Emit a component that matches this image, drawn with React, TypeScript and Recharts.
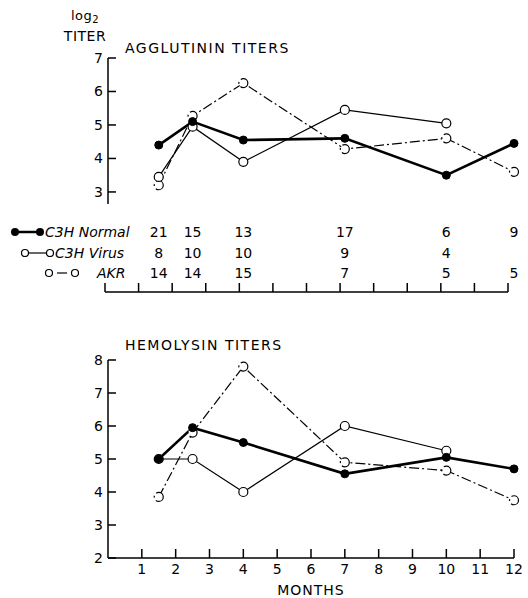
import { Legend, Line, LineChart, XAxis, YAxis } from "recharts";

const FONT = "DejaVu Sans";

// months at which titers were measured
const months = [1.5, 2.5, 4, 7, 10, 12];
const monthTicks = [1, 2, 3, 4, 5, 6, 7, 8, 9, 10, 11, 12];
const scaleTicks = [0, 1, 2, 3, 4, 5, 6, 7, 8, 9, 10, 11, 12];

// agglutinin titers (log2)
const agglNormal = [4.4, 5.1, 4.55, 4.6, 3.5, 4.45];
const agglVirus = [3.45, 4.95, 3.9, 5.45, 5.05, null];
const agglAkr = [3.2, 5.27, 6.25, 4.28, 4.6, 3.6];

// hemolysin titers (log2)
const hemoNormal = [5.0, 5.95, 5.5, 4.55, 5.05, 4.7];
const hemoVirus = [5.0, 5.0, 4.0, 6.0, 5.25, null];
const hemoAkr = [3.85, 5.8, 7.8, 4.9, 4.65, 3.75];

// number of animals per group
const countNormal = [21, 15, 13, 17, 6, 9];
const countVirus = [8, 10, 10, 9, 4, null];
const countAkr = [14, 14, 15, 7, 5, 5];

const agglData = months.map((m, i) => ({ month: m, normal: agglNormal[i], virus: agglVirus[i], akr: agglAkr[i] }));
const hemoData = months.map((m, i) => ({ month: m, normal: hemoNormal[i], virus: hemoVirus[i], akr: hemoAkr[i] }));

const txt = { fontFamily: FONT, fontSize: 14, fill: "#000" };

function YTick(props: any) {
  const { x, y, payload } = props;
  return (
    <g>
      <line x1={x} x2={x + 8} y1={y} y2={y} stroke="#000" strokeWidth={1.5} />
      <text x={x - 5} y={y} dy={5} textAnchor="end" {...txt}>{payload.value}</text>
    </g>
  );
}

function MonthTick(props: any) {
  const { x, y, payload } = props;
  return (
    <g>
      <line x1={x} x2={x} y1={y} y2={y - 9} stroke="#000" strokeWidth={1.5} />
      <text x={x} y={y + 16} textAnchor="middle" {...txt}>{payload.value}</text>
    </g>
  );
}

function ScaleTick(props: any) {
  const { x, y } = props;
  return <line x1={x} x2={x} y1={y} y2={y - 9} stroke="#000" strokeWidth={1.5} />;
}

function CountTick(props: any) {
  const { x, y, payload } = props;
  const i = months.indexOf(payload.value);
  if (i < 0) return <g />;
  return (
    <g>
      <text x={x} y={y + 33} textAnchor="middle" {...txt}>{countNormal[i]}</text>
      <text x={x} y={y + 54} textAnchor="middle" {...txt}>{countVirus[i] ?? ""}</text>
      <text x={x} y={y + 74} textAnchor="middle" {...txt}>{countAkr[i]}</text>
    </g>
  );
}

function TableKey() {
  const it = { ...txt, fontStyle: "italic" as const };
  return (
    <svg width={140} height={62}>
      <line x1={15} x2={40} y1={10} y2={10} stroke="#000" strokeWidth={2.5} />
      <circle cx={15} cy={10} r={4} fill="#000" />
      <circle cx={40} cy={10} r={4} fill="#000" />
      <text x={45} y={15} {...it}>C3H Normal</text>
      <line x1={25} x2={50} y1={31} y2={31} stroke="#000" strokeWidth={1.2} />
      <circle cx={25} cy={31} r={3.5} fill="#fff" stroke="#000" strokeWidth={1.2} />
      <circle cx={50} cy={31} r={3.5} fill="#fff" stroke="#000" strokeWidth={1.2} />
      <text x={55} y={36} {...it}>C3H Virus</text>
      <line x1={57} x2={67} y1={51} y2={51} stroke="#000" strokeWidth={1.2} />
      <circle cx={49} cy={51} r={3.5} fill="#fff" stroke="#000" strokeWidth={1.2} />
      <circle cx={75} cy={51} r={3.5} fill="#fff" stroke="#000" strokeWidth={1.2} />
      <text x={97} y={56} {...it}>AKR</text>
    </svg>
  );
}

const filledDot = { r: 4, fill: "#000", stroke: "#000", strokeWidth: 1 };
const openDot = { r: 4.5, fill: "#fff", stroke: "#000", strokeWidth: 1.2 };

const title = { position: "absolute" as const, fontFamily: FONT, fontSize: 14, letterSpacing: 1.5, lineHeight: "16px", color: "#000" };

export default function App() {
  return (
    <div style={{ position: "absolute", left: 0, top: 0, width: 528, height: 598, background: "#fff" }}>
      <div style={{ ...title, left: 58, top: 8, width: 54, textAlign: "center", letterSpacing: 0.5, fontSize: 13 }}>
        log<sub style={{ fontSize: 10, verticalAlign: "-3px" }}>2</sub>
        <br /><span style={{ fontSize: 14 }}>TITER</span>
      </div>
      <div style={{ ...title, left: 125, top: 40 }}>AGGLUTININ TITERS</div>
      <div style={{ ...title, left: 125, top: 337 }}>HEMOLYSIN TITERS</div>

      <div style={{ position: "absolute", left: 0, top: 0 }}>
        <LineChart width={528} height={300} data={agglData} margin={{ top: 58, right: 14, left: 0, bottom: 0 }}>
          <XAxis type="number" dataKey="month" domain={[0, 12]} ticks={months} interval={0}
            height={96} axisLine={false} tickLine={false} tickSize={0} tickMargin={0} tick={<CountTick />} />
          <YAxis type="number" domain={[2.64, 7]} allowDataOverflow ticks={[3, 4, 5, 6, 7]} width={108}
            axisLine={{ stroke: "#000", strokeWidth: 1.5 }} tickLine={false} tickSize={0} tickMargin={0} tick={<YTick />} />
          <Legend verticalAlign="middle" content={<TableKey />} wrapperStyle={{ position: "absolute", left: 0, top: 222, width: 140, height: 62 }} />
          <Line dataKey="akr" stroke="#000" strokeWidth={1.2} strokeDasharray="10 3 2 3" dot={openDot} isAnimationActive={false} />
          <Line dataKey="virus" stroke="#000" strokeWidth={1.2} dot={openDot} isAnimationActive={false} />
          <Line dataKey="normal" stroke="#000" strokeWidth={2.6} dot={filledDot} isAnimationActive={false} />
        </LineChart>
      </div>

      <div style={{ position: "absolute", left: 0, top: 0 }}>
        <LineChart width={528} height={320} data={agglData} margin={{ top: 250, right: 20, left: 105, bottom: 8 }}>
          <XAxis type="number" dataKey="month" domain={[0, 12]} ticks={scaleTicks} interval={0} height={20}
            axisLine={{ stroke: "#000", strokeWidth: 1.5 }} tickLine={false} tickSize={0} tickMargin={0} tick={<ScaleTick />} />
          <YAxis hide type="number" domain={[2.64, 7]} />
          <Line dataKey="normal" stroke="none" strokeOpacity={0} dot={false} activeDot={false} isAnimationActive={false} />
        </LineChart>
      </div>

      <div style={{ position: "absolute", left: 0, top: 300 }}>
        <LineChart width={528} height={298} data={hemoData} margin={{ top: 60, right: 14, left: 0, bottom: 0 }}>
          <XAxis type="number" dataKey="month" domain={[0, 12]} ticks={monthTicks} interval={0} height={40}
            axisLine={{ stroke: "#000", strokeWidth: 1.5 }} tickLine={false} tickSize={0} tickMargin={0} tick={<MonthTick />}
            label={{ value: "MONTHS", position: "insideBottom", offset: 3, style: { fontFamily: FONT, fontSize: 14, letterSpacing: 1, fill: "#000" } }} />
          <YAxis type="number" domain={[2, 8]} allowDataOverflow ticks={[2, 3, 4, 5, 6, 7, 8]} width={108}
            axisLine={{ stroke: "#000", strokeWidth: 1.5 }} tickLine={false} tickSize={0} tickMargin={0} tick={<YTick />} />
          <Line dataKey="akr" stroke="#000" strokeWidth={1.2} strokeDasharray="10 3 2 3" dot={openDot} isAnimationActive={false} />
          <Line dataKey="virus" stroke="#000" strokeWidth={1.2} dot={openDot} isAnimationActive={false} />
          <Line dataKey="normal" stroke="#000" strokeWidth={2.6} dot={filledDot} isAnimationActive={false} />
        </LineChart>
      </div>
    </div>
  );
}
